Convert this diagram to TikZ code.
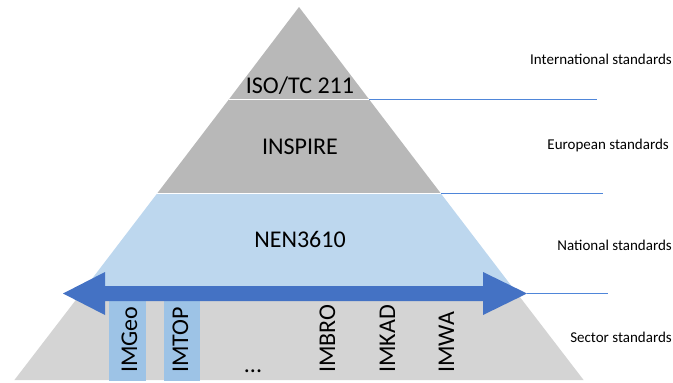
\documentclass[tikz,border=0pt]{standalone}
\usepackage{fontspec}
\setmainfont{Carlito}
\definecolor{tierdark}{HTML}{B8B8B8}
\definecolor{tierlight}{HTML}{D4D4D4}
\definecolor{tierblue}{HTML}{BDD7EE}
\definecolor{boxblue}{HTML}{9DC3E6}
\definecolor{arrowblue}{HTML}{4472C4}
\definecolor{rulerblue}{HTML}{4F86D9}
\begin{document}
\begin{tikzpicture}[x=1pt,y=-1pt,
  tierlabel/.style={font=\fontsize{24}{28}\selectfont, inner sep=0pt, anchor=base},
  levellabel/.style={font=\fontsize{15}{18}\selectfont, inner sep=0pt, anchor=base east},
  modellabel/.style={font=\fontsize{24}{28}\selectfont, inner sep=0pt, rotate=90, anchor=base west},
  modelbox/.style={fill=boxblue},
  separator/.style={draw=white, line width=1pt},
  ruler/.style={draw=rulerblue, line width=1.1pt}]
\useasboundingbox (0,0) rectangle (673,383);

% pyramid outline points, one pair per tier boundary
\coordinate (apex) at (299,7);
\coordinate (a1) at (228.8,99.5);  \coordinate (b1) at (369.2,99.5);
\coordinate (a2) at (157.1,193.5); \coordinate (b2) at (440.9,193.5);
\coordinate (a3) at (80.8,293.5);  \coordinate (b3) at (517.2,293.5);
\coordinate (a4) at (14.4,380);    \coordinate (b4) at (583.6,380);

% tiers
\fill[tierdark]  (apex) -- (b1) -- (a1) -- cycle;
\fill[tierdark]  (a1) -- (b1) -- (b2) -- (a2) -- cycle;
\fill[tierblue]  (a2) -- (b2) -- (b3) -- (a3) -- cycle;
\fill[tierlight] (a3) -- (b3) -- (b4) -- (a4) -- cycle;
\draw[separator] (a1) -- (b1);
\draw[separator] (a2) -- (b2);

% highlighted sector models
\fill[modelbox] (109,301) rectangle (146,381);
\fill[modelbox] (164,301) rectangle (200,381);

% double-headed arrow across the national/sector boundary
\coordinate (tipL) at (63,293.5);
\coordinate (tipR) at (527,293.5);
\fill[arrowblue] (tipL) -- (105,272) -- (105,286) -- (483,286) -- (483,272)
  -- (tipR) -- (483,315) -- (483,301) -- (105,301) -- (105,315) -- cycle;

% level rulers
\coordinate (r1) at (597,99.5);
\coordinate (r2) at (603,193.5);
\coordinate (r3) at (608,293.5);
\draw[ruler] (b1) -- (r1);
\draw[ruler] (b2) -- (r2);
\draw[ruler] (tipR) -- (r3);

% tier labels
\node[tierlabel] (iso) at (300,93) {ISO/TC 211};
\node[tierlabel] (inspire) at (300,154) {INSPIRE};
\node[tierlabel] (nen) at (300,247) {NEN3610};

% level labels
\node[levellabel] (intl) at (672,64) {International standards};
\node[levellabel] (euro) at (669,149) {European standards};
\node[levellabel] (natl) at (672,250) {National standards};
\node[levellabel] (sect) at (672,342) {Sector standards};

% sector models
\node[modellabel] (imgeo) at (137,373) {IMGeo};
\node[modellabel] (imtop) at (188,373) {IMTOP};
\node[tierlabel] (dots) at (253,372) {...};
\node[modellabel] (imbro) at (335,373) {IMBRO};
\node[modellabel] (imkad) at (395,373) {IMKAD};
\node[modellabel] (imwa) at (454,373) {IMWA};
\end{tikzpicture}
\end{document}
